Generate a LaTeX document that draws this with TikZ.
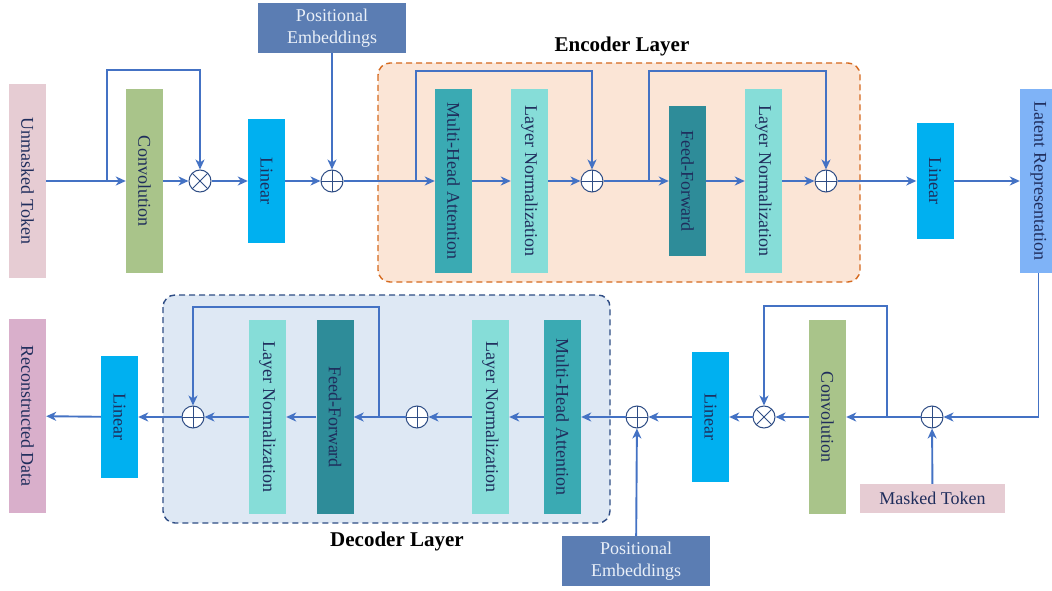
\documentclass[tikz,border=0pt]{standalone}
\usepackage{fontspec}
\setmainfont{Liberation Serif}
\usetikzlibrary{arrows.meta}
\definecolor{flowblue}{HTML}{4472C4}
\definecolor{ringblue}{HTML}{2F4D85}
\definecolor{txtnavy}{HTML}{1F2D5C}
\definecolor{tokenpink}{HTML}{E6CCD3}
\definecolor{reconpink}{HTML}{D9AFCB}
\definecolor{convgreen}{HTML}{A9C48A}
\definecolor{linblue}{HTML}{00B0F0}
\definecolor{posblue}{HTML}{5B7DB3}
\definecolor{postext}{HTML}{EAF0F8}
\definecolor{mhateal}{HTML}{3AAAB3}
\definecolor{lnteal}{HTML}{86DDD8}
\definecolor{ffteal}{HTML}{2E8C99}
\definecolor{latentblue}{HTML}{7FB3F7}
\definecolor{encfill}{HTML}{FBE5D6}
\definecolor{encline}{HTML}{D66A1F}
\definecolor{decfill}{HTML}{DEE8F4}
\definecolor{decline}{HTML}{2F4D85}
\begin{document}
\begin{tikzpicture}[x=1pt, y=-1pt,
		block/.style={rotate=-90, minimum height=37pt, inner sep=0pt, text=txtnavy, font=\fontsize{18}{21}\selectfont},
		posbox/.style={fill=posblue, minimum width=148pt, minimum height=50pt, inner sep=0pt, align=center, text=postext, font=\fontsize{18}{22}\selectfont},
		flow/.style={flowblue, line width=1.9pt, -{Stealth[length=10pt, width=9pt, inset=3pt]}},
		layerbox/.style={line width=1.4pt, dash pattern=on 6pt off 4pt, rounded corners=12pt},
		layertitle/.style={font=\fontsize{21}{24}\selectfont\bfseries},
		sumnode/.style={circle, draw=ringblue, line width=1pt, fill=white, minimum size=22pt, inner sep=0pt,
			path picture={\draw[ringblue, line width=1pt] (path picture bounding box.north) -- (path picture bounding box.south) (path picture bounding box.west) -- (path picture bounding box.east);}},
		prodnode/.style={circle, draw=ringblue, line width=1pt, fill=white, minimum size=22pt, inner sep=0pt,
			path picture={\draw[ringblue, line width=1pt] (path picture bounding box.north west) -- (path picture bounding box.south east) (path picture bounding box.south west) -- (path picture bounding box.north east);}}]
	\useasboundingbox[fill=white] (0,0) rectangle (1052,591);
	% layer frames
	\draw[layerbox, draw=encline, fill=encfill] (378,63) rectangle (860,282);
	\draw[layerbox, draw=decline, fill=decfill] (163,295) rectangle (610,523);
	\node[layertitle] (enclabel) at (622,46) {Encoder Layer};
	\node[layertitle] (declabel) at (397,541) {Decoder Layer};
	% encoder path
	\node[block, fill=tokenpink, minimum width=194pt] (unmasked) at (27.5,181) {Unmasked Token};
	\node[block, fill=convgreen, minimum width=184pt] (conv1) at (144.5,181) {Convolution};
	\node[prodnode] (mul1) at (200,181) {};
	\node[block, fill=linblue, minimum width=124pt] (lin1) at (266.5,181) {Linear};
	\node[sumnode] (add1) at (332,181) {};
	\node[posbox] (pos1) at (332,28) {Positional\\Embeddings};
	\node[block, fill=mhateal, minimum width=184pt] (mha1) at (453.5,181) {Multi-Head Attention};
	\node[block, fill=lnteal, minimum width=184pt] (ln1) at (529.5,181) {Layer Normalization};
	\node[sumnode] (add2) at (592,181) {};
	\node[block, fill=ffteal, minimum width=150pt] (ff1) at (687.5,181) {Feed-Forward};
	\node[block, fill=lnteal, minimum width=184pt] (ln2) at (763.5,181) {Layer Normalization};
	\node[sumnode] (add3) at (826,181) {};
	\node[block, fill=linblue, minimum width=115pt] (lin2) at (935,181) {Linear};
	\node[block, fill=latentblue, minimum width=184pt] (latent) at (1038.5,181) {Latent Representation};
	% decoder path
	\node[sumnode] (add4) at (932,417) {};
	\node[fill=tokenpink, minimum width=145pt, minimum height=29pt, inner sep=0pt, text=txtnavy, font=\fontsize{18}{21}\selectfont] (masked) at (932.5,498.5) {Masked Token};
	\node[block, fill=convgreen, minimum width=194pt] (conv2) at (827.5,417) {Convolution};
	\node[prodnode] (mul2) at (764,417) {};
	\node[block, fill=linblue, minimum width=130pt] (lin3) at (710.5,417) {Linear};
	\node[sumnode] (add5) at (637,417) {};
	\node[posbox] (pos2) at (636,561) {Positional\\Embeddings};
	\node[block, fill=mhateal, minimum width=194pt] (mha2) at (562.5,417) {Multi-Head Attention};
	\node[block, fill=lnteal, minimum width=194pt] (ln3) at (490.5,417) {Layer Normalization};
	\node[sumnode] (add6) at (417,417) {};
	\node[block, fill=ffteal, minimum width=194pt] (ff2) at (335,417) {Feed-Forward};
	\node[block, fill=lnteal, minimum width=194pt] (ln4) at (267.5,417) {Layer Normalization};
	\node[sumnode] (add7) at (193,417) {};
	\node[block, fill=linblue, minimum width=122pt] (lin4) at (119.5,417) {Linear};
	\node[block, fill=reconpink, minimum width=194pt] (recon) at (27.5,416) {Reconstructed Data};
	% branch points of the skip paths
	\coordinate (br1) at (107,181); \coordinate (br1t) at (107,70);
	\coordinate (br2) at (416,181); \coordinate (br2t) at (416,71);
	\coordinate (br3) at (649,181); \coordinate (br3t) at (649,71);
	\coordinate (br4) at (887,417); \coordinate (br4t) at (887,306);
	\coordinate (br5) at (379,417); \coordinate (br5t) at (379,307);
	% connectors, top row
	\draw[flow] (unmasked) -- (conv1);
	\draw[flow] (br1) -- (br1t) -| (mul1);
	\draw[flow] (conv1) -- (mul1);
	\draw[flow] (mul1) -- (lin1);
	\draw[flow] (lin1) -- (add1);
	\draw[flow] (pos1) -- (add1);
	\draw[flow] (add1) -- (mha1);
	\draw[flow] (br2) -- (br2t) -| (add2);
	\draw[flow] (mha1) -- (ln1);
	\draw[flow] (ln1) -- (add2);
	\draw[flow] (add2) -- (ff1);
	\draw[flow] (br3) -- (br3t) -| (add3);
	\draw[flow] (ff1) -- (ln2);
	\draw[flow] (ln2) -- (add3);
	\draw[flow] (add3) -- (lin2);
	\draw[flow] (lin2) -- (latent);
	% connectors, bottom row
	\draw[flow] (latent) |- (add4);
	\draw[flow] (masked) -- (add4);
	\draw[flow] (add4) -- (conv2);
	\draw[flow] (br4) -- (br4t) -| (mul2);
	\draw[flow] (conv2) -- (mul2);
	\draw[flow] (mul2) -- (lin3);
	\draw[flow] (lin3) -- (add5);
	\draw[flow] (pos2) -- (add5);
	\draw[flow] (add5) -- (mha2);
	\draw[flow] (mha2) -- (ln3);
	\draw[flow] (ln3) -- (add6);
	\draw[flow] (add6) -- (ff2);
	\draw[flow] (br5) -- (br5t) -| (add7);
	\draw[flow] (ff2) -- (ln4);
	\draw[flow] (ln4) -- (add7);
	\draw[flow] (add7) -- (lin4);
	\draw[flow] (lin4) -- (recon);
\end{tikzpicture}
\end{document}
